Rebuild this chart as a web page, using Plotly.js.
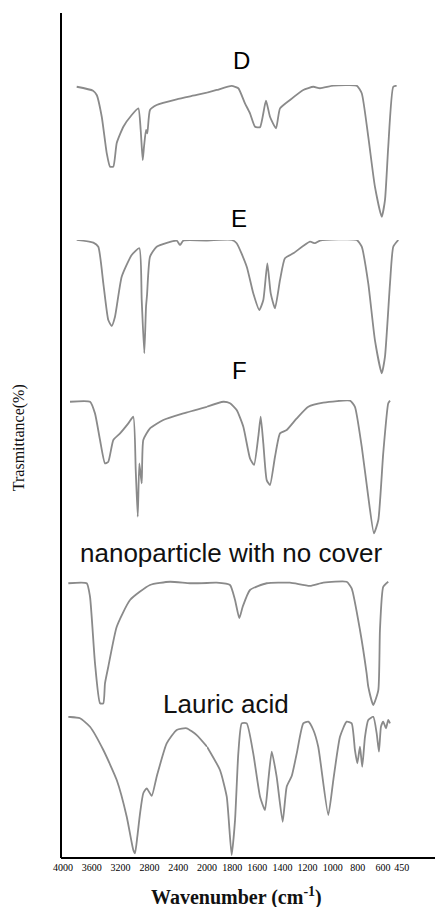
<!DOCTYPE html>
<html>
<head>
<meta charset="utf-8">
<script src="https://cdn.plot.ly/plotly-3.0.1.min.js"></script>
<style>html,body{margin:0;padding:0;background:#fff;}#chart{width:435px;height:907px;}</style>
</head>
<body>
<div id="chart"></div>
<script>
// Wavenumbers (cm^-1) and relative transmittance (%)
const D_wn = [3810,3583,3532,3462,3393,3347,3301,3254,3162,3046,2954,2921,2893,2875,2847,2829,2792,2699,2421,2143,2000,1923,1804,1751,1698,1658,1618,1578,1531,1499,1451,1419,1340,1234,1154,1101,995,809,769,717,664,610,584,558,518,491];
const D_T  = [98.7,95.8,92.6,76.5,49.6,39.5,39.5,57.0,69.1,77.8,82.7,66.7,44.4,54.3,66.7,64.2,81.5,85.2,89.4,92.6,94.4,96.3,99.3,97.6,86.4,79.0,69.1,68.7,88.4,76.5,67.9,82.7,88.9,96.3,98.7,97.6,99.5,99.5,93.9,61.7,24.7,2.4,14.8,54.3,98.7,99.5];

const E_wn = [3810,3579,3510,3440,3371,3324,3278,3185,3046,2940,2907,2871,2847,2833,2792,2699,2421,2375,2329,2000,1804,1764,1684,1632,1584,1552,1520,1493,1459,1419,1380,1314,1181,1141,1101,809,769,717,664,610,584,544,518,478];
const E_T  = [100,98.0,95.0,67.9,40.7,36.3,43.2,72.8,88.9,93.9,55.6,16.1,50.6,59.3,87.6,95.0,99.5,96.3,99.5,99.5,100,97.6,80.2,60.5,48.1,55.6,82.7,60.5,49.4,70.4,86.4,90.1,98.7,97.6,99.5,100,95.0,67.9,25.9,1.3,13.6,67.9,95.0,100];

const F_wn = [3903,3625,3556,3486,3417,3371,3301,3208,3093,3024,2990,2962,2940,2907,2885,2792,2607,2329,2000,1870,1817,1764,1711,1658,1626,1592,1573,1552,1525,1499,1459,1419,1366,1286,1194,1075,862,823,769,717,672,637,598,558,544];
const F_T  = [98.7,98.7,90.1,70.4,53.1,54.3,70.4,75.3,82.7,87.6,48.1,13.6,53.1,38.3,70.4,79.0,85.2,90.1,95.0,98.7,97.6,92.6,80.2,56.8,51.9,72.8,87.6,67.9,40.7,37.0,58.0,75.3,77.8,86.4,95.0,98.0,99.5,95.0,65.4,28.4,1.3,11.1,60.5,97.6,99.5];

const N_wn = [3926,3671,3625,3556,3486,3440,3417,3371,3254,3069,2792,2514,2236,2000,1923,1817,1777,1743,1716,1658,1525,1340,1181,1075,889,849,783,730,717,677,637,624,598,558];
const N_T  = [93.9,93.9,83.9,34.8,5.0,5.0,19.8,32.1,61.7,81.5,92.6,95.0,93.9,94.1,94.3,92.6,81.5,68.0,76.5,88.9,93.9,94.3,91.9,94.3,95.0,90.1,59.3,27.2,17.3,3.7,14.8,59.3,91.3,95.0];

const L_wn = [3926,3764,3625,3440,3254,3115,3024,3000,2968,2930,2885,2837,2768,2699,2560,2421,2282,2143,2000,1897,1843,1804,1777,1751,1724,1684,1632,1578,1539,1512,1485,1446,1398,1366,1326,1286,1234,1194,1154,1115,1035,995,942,889,849,823,804,783,765,743,717,677,650,632,616,598,576,558,544];
const L_T  = [99.5,98.4,92.4,75.9,54.6,28.6,5.0,2.6,14.4,31.0,45.2,48.7,43.3,57.0,80.6,90.1,91.3,86.5,78.3,61.7,42.8,1.4,26.2,73.5,94.8,94.8,73.5,42.8,33.3,54.6,74.7,57.0,25.0,49.9,57.4,73.5,94.8,96.0,90.1,78.2,29.8,54.6,85.3,96.0,94.8,75.9,66.5,78.2,64.0,85.3,97.2,99.5,87.7,74.7,92.4,96.0,91.3,97.2,94.8];

const labels = ['D','E','F','nanoparticle with no cover','Lauric acid'];
const ticksHigh = [4000,3600,3200,2800,2400,2000];
const ticksLow = [1800,1600,1400,1200,1000,800,600,450];

const spectra = [
  {wn:D_wn, T:D_T, y:'y5'},
  {wn:E_wn, T:E_T, y:'y4'},
  {wn:F_wn, T:F_T, y:'y3'},
  {wn:N_wn, T:N_T, y:'y2'},
  {wn:L_wn, T:L_T, y:'y'}
];

const lineStyle = {color:'#8a8a8a', width:1.8, shape:'spline', smoothing:0.5};
const traces = [];
spectra.forEach(s => {
  const hi = s.wn.map((w,i)=>[w,s.T[i]]).filter(p=>p[0]>=2000);
  const lo = s.wn.map((w,i)=>[w,s.T[i]]).filter(p=>p[0]<=2000);
  traces.push({x:hi.map(p=>p[0]), y:hi.map(p=>p[1]), xaxis:'x', yaxis:s.y, mode:'lines', line:lineStyle, hoverinfo:'skip'});
  traces.push({x:lo.map(p=>p[0]), y:lo.map(p=>p[1]), xaxis:'x2', yaxis:s.y, mode:'lines', line:lineStyle, hoverinfo:'skip'});
});

const split = 0.3904;
const tickFont = {family:'Liberation Serif, serif', size:10, color:'#000'};
const yBase = {range:[0,100], visible:false, fixedrange:true};

const layout = {
  width:435, height:907,
  margin:{l:61, r:0, t:13, b:49},
  paper_bgcolor:'#fff', plot_bgcolor:'#fff',
  showlegend:false,
  xaxis:{domain:[0,split], range:[4028,2000], tickvals:ticksHigh, ticktext:ticksHigh.map(String),
         showline:true, linecolor:'#000', linewidth:2, showgrid:false, zeroline:false, ticks:'', tickfont:tickFont, anchor:'y'},
  xaxis2:{domain:[split,1], range:[2000,186], tickvals:ticksLow, ticktext:ticksLow.map(String),
         showline:true, linecolor:'#000', linewidth:2, showgrid:false, zeroline:false, ticks:'', tickfont:tickFont, anchor:'y'},
  yaxis: Object.assign({domain:[0.0012,0.1680]}, yBase),
  yaxis2:Object.assign({domain:[0.1751,0.3349]}, yBase),
  yaxis3:Object.assign({domain:[0.3822,0.5420]}, yBase),
  yaxis4:Object.assign({domain:[0.5716,0.7314]}, yBase),
  yaxis5:Object.assign({domain:[0.7550,0.9148]}, yBase),
  shapes:[{type:'line', xref:'paper', yref:'paper', x0:0, x1:0, y0:0, y1:1, line:{color:'#000', width:2}}],
  annotations:[
    {text:labels[0], xref:'paper', yref:'paper', x:0.483, y:0.9438, showarrow:false, xanchor:'center', yanchor:'middle', font:{family:'Liberation Sans, Arial, sans-serif', size:24, color:'#000'}},
    {text:labels[1], xref:'paper', yref:'paper', x:0.476, y:0.7568, showarrow:false, xanchor:'center', yanchor:'middle', font:{family:'Liberation Sans, Arial, sans-serif', size:24, color:'#000'}},
    {text:labels[2], xref:'paper', yref:'paper', x:0.476, y:0.5775, showarrow:false, xanchor:'center', yanchor:'middle', font:{family:'Liberation Sans, Arial, sans-serif', size:24, color:'#000'}},
    {text:labels[3], xref:'paper', yref:'paper', x:0.455, y:0.3615, showarrow:false, xanchor:'center', yanchor:'middle', font:{family:'Liberation Sans, Arial, sans-serif', size:26, color:'#111'}},
    {text:labels[4], xref:'paper', yref:'paper', x:0.441, y:0.1817, showarrow:false, xanchor:'center', yanchor:'middle', font:{family:'Liberation Sans, Arial, sans-serif', size:26, color:'#111'}},
    {text:'Trasmittance(%)', xref:'paper', yref:'paper', x:-0.1123, y:0.498, showarrow:false, textangle:-90, xanchor:'center', yanchor:'middle', font:{family:'Liberation Serif, serif', size:16, color:'#111'}},
    {text:'<b>Wavenumber (cm<sup>-1</sup>)</b>', xref:'paper', yref:'paper', x:0.468, y:-0.045, showarrow:false, xanchor:'center', yanchor:'middle', font:{family:'Liberation Serif, serif', size:20, color:'#111'}}
  ]
};

Plotly.newPlot('chart', traces, layout, {staticPlot:true, displayModeBar:false});
</script>
</body>
</html>
